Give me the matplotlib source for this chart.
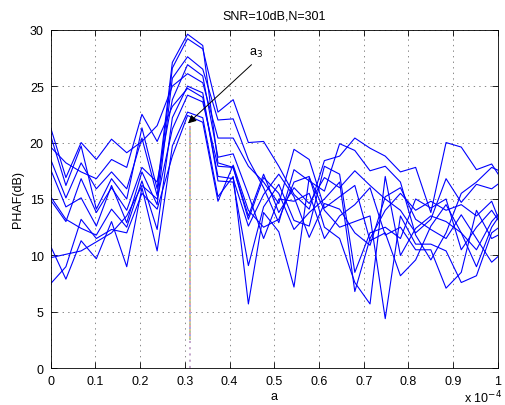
import numpy as np
import matplotlib
matplotlib.use("Agg")
import matplotlib.pyplot as plt

plt.rcParams['font.family'] = ['Liberation Sans', 'DejaVu Sans']
plt.rcParams['lines.scale_dashes'] = False

# x grid (units of 1e-4)
x_step = 0.034
n_pts = 31

# per-line values at x = k*x_step, k = 0..30
line_vals = [
 [21.3,16.9,20.0,18.5,20.3,19.1,20.1,21.5,25.0,26.1,25.3,20.4,20.4,17.9,16.5,14.6,19.4,18.5,14.2,15.2,16.2,11.3,12.0,8.2,9.6,12.6,14.5,12.0,9.0,12.5,14.5],
 [20.6,16.2,19.7,14.1,16.8,15.0,21.3,15.9,27.1,29.6,28.6,18.2,17.8,13.5,17.2,13.8,16.0,14.6,16.9,16.0,17.5,16.2,15.0,14.0,12.0,13.2,16.8,14.7,16.3,15.9,16.9],
 [19.6,18.2,17.4,16.8,18.5,17.8,22.5,20.1,23.2,24.8,24.0,17.0,16.8,12.6,15.4,17.2,15.2,11.6,14.6,14.1,12.0,10.9,15.2,16.0,13.2,12.3,11.5,13.6,11.5,9.4,10.6],
 [18.5,15.1,18.2,15.9,17.4,15.9,20.4,15.3,26.6,29.2,28.3,22.7,23.8,20.0,20.1,17.9,15.4,14.1,18.4,18.8,20.4,19.5,18.8,17.4,17.8,13.8,20.0,19.6,17.6,18.1,16.0],
 [17.6,14.3,15.1,12.6,16.2,12.9,17.4,14.5,25.7,27.6,26.5,22.0,22.1,18.5,16.0,12.9,17.6,16.6,15.7,19.9,19.3,17.5,17.9,16.5,11.8,9.6,12.0,15.5,16.5,17.8,17.2],
 [15.2,13.2,12.4,11.8,14.1,12.5,16.6,12.3,22.2,25.0,24.4,16.6,16.5,9.1,14.3,16.3,13.1,12.6,17.9,17.2,8.5,12.0,12.5,11.5,15.0,14.2,15.0,10.5,12.5,14.0,12.0],
 [14.9,13.0,16.8,13.8,16.0,14.0,17.8,16.5,23.8,26.9,25.9,18.7,19.0,15.4,11.5,15.0,14.8,15.5,11.5,13.5,14.5,16.0,11.8,12.5,10.5,10.5,7.1,8.5,14.0,11.5,12.2],
 [10.8,7.9,11.3,9.7,13.0,9.0,16.0,10.4,19.7,22.7,22.2,15.2,17.0,5.7,13.8,12.1,7.2,16.9,14.0,12.5,13.0,13.5,4.4,13.5,11.0,11.0,10.4,7.6,8.2,12.0,13.0],
 [9.8,10.1,10.4,11.2,12.0,13.5,16.2,15.0,21.2,24.2,23.6,17.9,17.8,13.2,16.9,15.5,12.3,13.8,15.0,16.5,6.8,11.5,14.0,15.5,14.0,14.8,14.0,14.5,13.5,14.8,11.4],
 [7.5,9.0,13.2,11.5,12.3,12.0,15.5,14.1,18.8,22.4,21.8,14.8,18.0,14.0,12.5,13.2,16.5,17.0,12.5,11.5,7.6,5.7,17.0,10.0,12.4,13.5,13.0,12.0,10.5,13.0,14.5],
]

# marker (true a3) position and stem extents/colours
a3_x = 0.3125
stem_base_bottom = 2.5
stem_top = 21.5
stem_base_color = '#c4a6cc'
stem_overlay_colors = ['#a6d0a0', '#f0a0a8', '#a0b0ec', '#e4c88c']

xticks = [0, 0.1, 0.2, 0.3, 0.4, 0.5, 0.6, 0.7, 0.8, 0.9, 1]
xticklabels = ['0', '0.1', '0.2', '0.3', '0.4', '0.5', '0.6', '0.7', '0.8', '0.9', '1']
yticks = [0, 5, 10, 15, 20, 25, 30]

fig = plt.figure(figsize=(5.05, 4.06), dpi=100)
ax = fig.add_axes([0.1004, 0.0904, 0.8856, 0.834])

x = np.arange(n_pts) * x_step

# stem: solid pastel base plus dotted coloured overlays
ax.vlines(a3_x, stem_base_bottom, stem_top, colors=stem_base_color, lw=1.4)
ax.vlines(a3_x, 0, stem_base_bottom, colors=stem_base_color, lw=1.4,
          linestyles=[(0, (1.5, 3.0))])
for i, c in enumerate(stem_overlay_colors):
    ax.vlines(a3_x, stem_base_bottom, stem_top, colors=c, lw=1.4,
              linestyles=[(i * 1.3, (1.3, 4.0))])

for vals in line_vals:
    ax.plot(x, vals, color=(0, 0, 1), lw=0.8)

ax.set_xlim(0, 1)
ax.set_ylim(0, 30)
ax.set_xticks(xticks)
ax.set_xticklabels(xticklabels)
ax.set_yticks(yticks)
ax.tick_params(direction='in', top=True, right=True, length=4, width=0.6,
               labelsize=9, pad=5)
ax.grid(True, color='#888888', linestyle=(0, (1, 3)), lw=0.7)
for s in ax.spines.values():
    s.set_linewidth(0.6)

ax.set_title('SNR=10dB,N=301', fontsize=9, pad=8)
ax.set_xlabel('a', fontsize=9, labelpad=2)
ax.set_ylabel('PHAF(dB)', fontsize=9, labelpad=4)

ax.annotate('', xy=(0.307, 21.7), xytext=(0.449, 26.9),
            arrowprops=dict(arrowstyle='-|>', color='k', lw=0.7,
                            mutation_scale=12, shrinkA=0, shrinkB=0))
ax.text(0.459, 27.4, 'a$_3$', fontsize=9, ha='center', va='bottom')

fig.text(0.918, 0.0, r'x 10$^{-4}$', fontsize=9, ha='left', va='bottom')

fig.savefig('out.png', dpi=100)
